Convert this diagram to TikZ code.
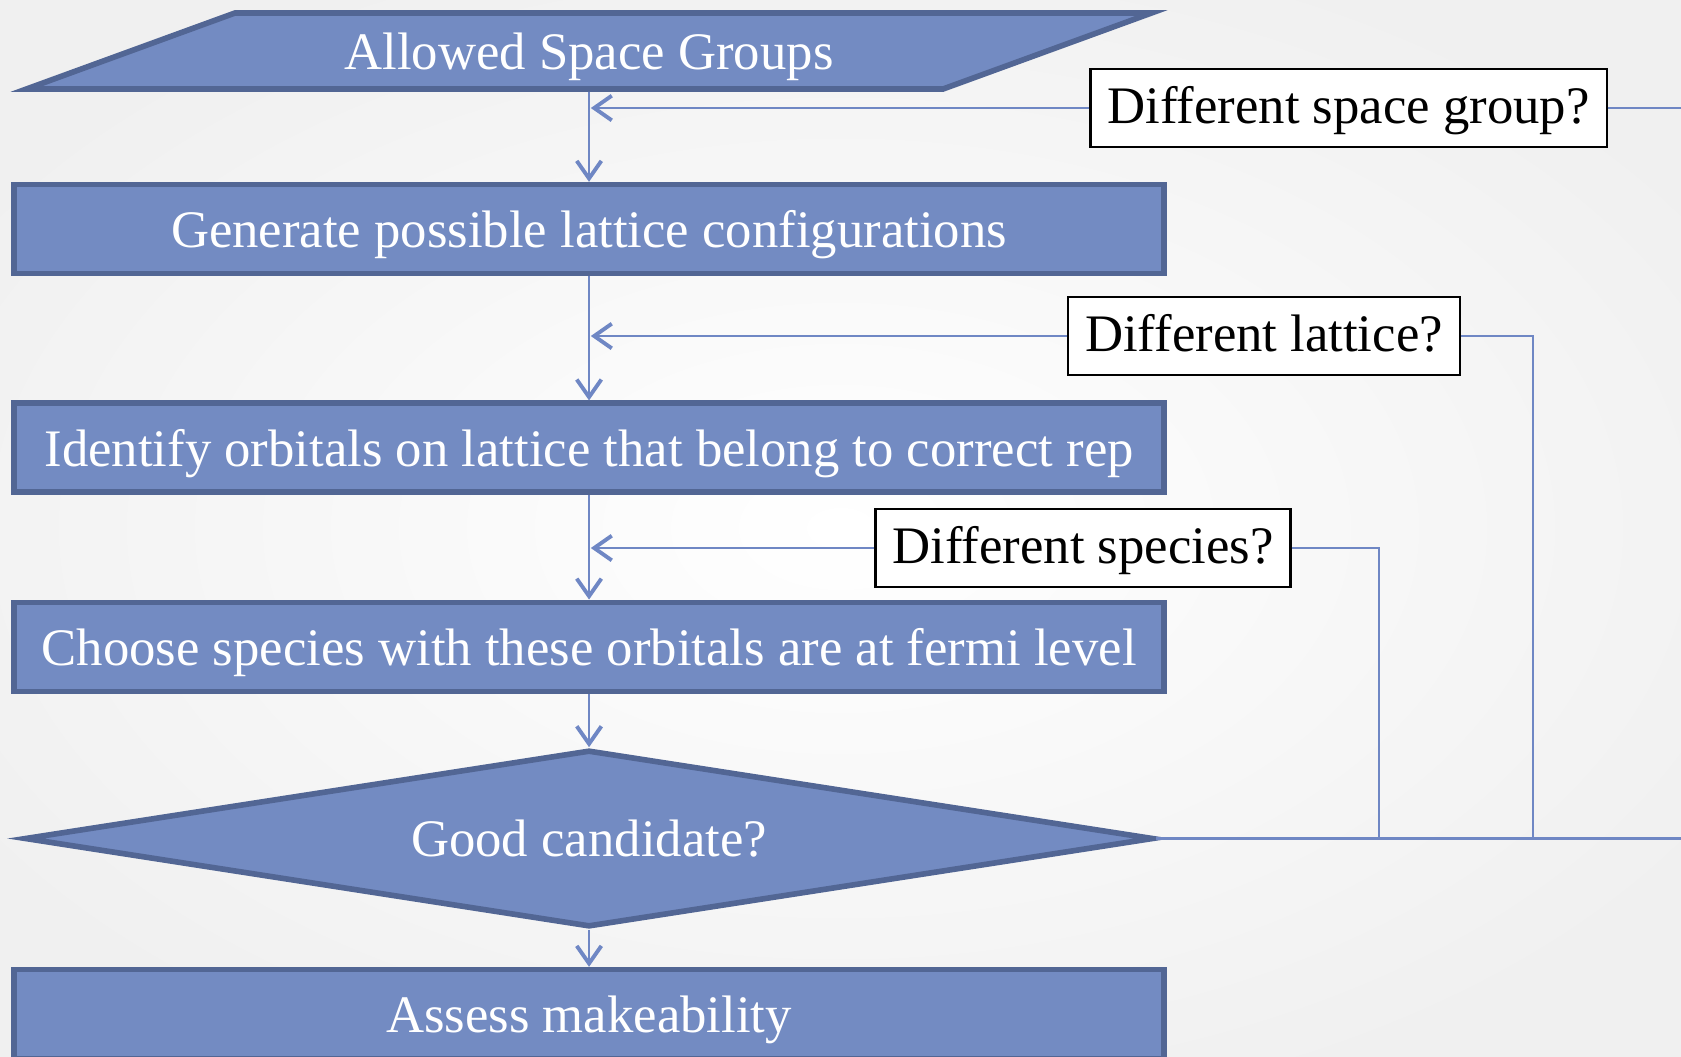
\documentclass[tikz,border=0pt]{standalone}
\usepackage{fontspec}
\setmainfont{Liberation Serif}
\usepackage{tikz}
\usetikzlibrary{shapes.geometric, arrows.meta, positioning, calc}
\definecolor{stepfill}{RGB}{115,139,194}
\definecolor{stepedge}{RGB}{82,102,148}
\definecolor{flowline}{RGB}{111,135,196}
\tikzstyle{process} = [rectangle, minimum width=11.5cm, minimum height=0.89cm, inner ysep=2pt, text height=14pt, text depth=3.5pt, text centered, draw=stepedge, line width=1.6pt, fill=stepfill, text=white, font=\fontsize{15}{17}\selectfont]
\tikzstyle{io} = [trapezium, trapezium left angle=18.2, trapezium right angle=161.8, trapezium stretches body=true, minimum width=11.25cm, minimum height=0.76cm, inner ysep=1pt, text height=14pt, text depth=3.5pt, text centered, draw=stepedge, line width=1.6pt, fill=stepfill, text=white, font=\fontsize{15}{17}\selectfont]
\tikzstyle{decision} = [diamond, aspect=6.5, minimum width=11.29cm, minimum height=1.77cm, inner sep=0pt, text height=14pt, text depth=3.5pt, text centered, draw=stepedge, line width=1.6pt, fill=stepfill, text=white, font=\fontsize{15}{17}\selectfont]
\tikzstyle{query} = [rectangle, draw=black, line width=0.6pt, fill=white, minimum height=0.78cm, inner xsep=0.17cm, inner ysep=2pt, text height=12.5pt, text depth=3.5pt, font=\fontsize{15}{17}\selectfont]
\tikzstyle{arrow} = [draw=flowline, line width=0.5pt, -{Straight Barb[length=5pt,width=7pt,line width=1.1pt]}]
\tikzstyle{line} = [draw=flowline, line width=0.6pt]
\begin{document}
\begin{tikzpicture}
    \useasboundingbox (0,0) rectangle (16.81,-10.56);
    \shade[inner color=white, outer color=black!6] (-2,1) rectangle (18.81,-11.56);

    % main chain
    \node (allowed) [io] at (5.89,-0.51) {Allowed Space Groups};
    \node (gen) [process, below=0.90cm of allowed] {Generate possible lattice configurations};
    \node (orb) [process, below=1.24cm of gen] {Identify orbitals on lattice that belong to correct rep};
    \node (pick) [process, below=1.045cm of orb] {Choose species with these orbitals are at fermi level};
    \node (good) [decision, below=0.53cm of pick] {Good candidate?};
    \node (assess) [process, below=0.37cm of good] {Assess makeability};

    % questions
    \node (sg) [query] at (13.485,-1.08) {Different space group?};
    \node (lat) [query] at (12.64,-3.36) {Different lattice?};
    \node (spc) [query] at (10.83,-5.48) {Different species?};

    \coordinate (rim) at (16.81,0);
    \coordinate (latdrop) at (15.33,0);
    \coordinate (spcdrop) at (13.79,0);

    \draw[arrow] (allowed) -- (gen);
    \draw[arrow] (gen) -- (orb);
    \draw[arrow] (orb) -- (pick);
    \draw[arrow] (pick) -- (good);
    \draw[arrow] (good) -- (assess);

    \draw[arrow, shorten >=0.5pt] (sg.west) -- (sg.west -| allowed.south);
    \draw[arrow, shorten >=0.5pt] (lat.west) -- (lat.west -| gen.south);
    \draw[arrow, shorten >=0.5pt] (spc.west) -- (spc.west -| orb.south);

    \draw[line] (sg.east) -- (sg.east -| rim);
    \draw[line] (good.east) -- (good.east -| rim);
    \draw[line] (lat.east) -| (latdrop |- good.east);
    \draw[line] (spc.east) -| (spcdrop |- good.east);
\end{tikzpicture}
\end{document}
